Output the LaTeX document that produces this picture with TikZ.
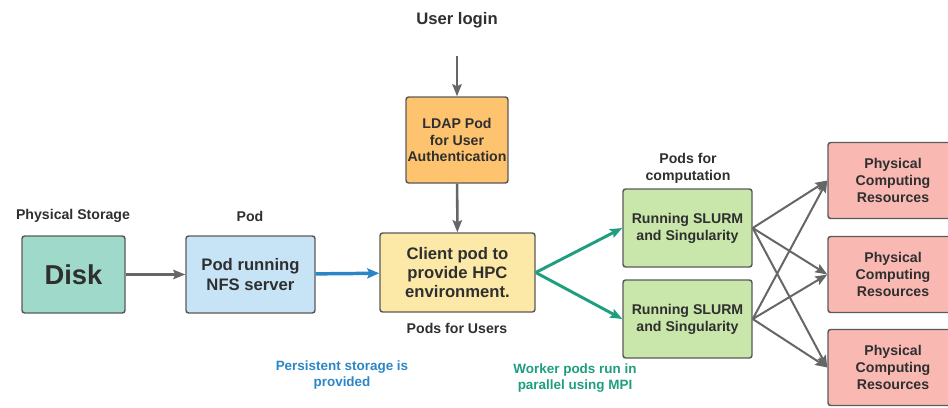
\documentclass[tikz,border=0pt]{standalone}
\usepackage{fontspec}
\setmainfont{Liberation Sans}
\usetikzlibrary{arrows.meta}
\definecolor{diskbg}{HTML}{9FD9C9}
\definecolor{nfsbg}{HTML}{C6E4F6}
\definecolor{ldapbg}{HTML}{FDC36F}
\definecolor{clientbg}{HTML}{FDE9A7}
\definecolor{slurmbg}{HTML}{C9E7AA}
\definecolor{resbg}{HTML}{F9B9B2}
\definecolor{boxline}{HTML}{5A5A5A}
\definecolor{txt}{HTML}{2F2F2F}
\definecolor{arrgray}{HTML}{666666}
\definecolor{nfsblue}{HTML}{2B86C7}
\definecolor{mpiteal}{HTML}{1D9E7E}
\newcommand{\DiskTxt}{\fontsize{20.5}{24}\selectfont}
\newcommand{\MidTxt}{\fontsize{12.5}{14.5}\selectfont}
\newcommand{\SmlTxt}{\fontsize{10.6}{12.6}\selectfont}
\newcommand{\AnnTxt}{\fontsize{10.1}{12.2}\selectfont}

\begin{document}
\begin{tikzpicture}[x=0.75pt,y=-0.75pt,
  box/.style={draw=boxline,line width=1.1pt,rounded corners=2pt,align=center,
    inner sep=1pt,text=txt,font=\bfseries},
  wh/.style 2 args={minimum width=#1*0.75pt,minimum height=#2*0.75pt},
  lbl/.style={align=center,inner sep=1pt,text=txt,font=\bfseries},
  garr/.style={draw=arrgray,line width=1.9pt,-{Stealth[length=9pt,width=7pt,inset=1.5pt]}},
  barr/.style={draw=nfsblue,line width=2.6pt,-{Stealth[length=9pt,width=7.5pt,inset=1.5pt]}},
  tarr/.style={draw=mpiteal,line width=2.2pt,-{Stealth[length=9pt,width=7pt,inset=1.5pt]}}]

\clip (0,0) rectangle (948,407);

% --- boxes -----------------------------------------------------------
\node[box,wh={103}{77},fill=diskbg,font=\DiskTxt\bfseries] (disk) at (73.5,274.5) {Disk};
\node[box,wh={129}{77},fill=nfsbg,font=\MidTxt\bfseries] (nfs) at (250.5,274.5) {Pod running\\NFS server};
\node[box,wh={102}{86},fill=ldapbg,font=\SmlTxt\bfseries] (ldap) at (457,140) {LDAP Pod\\for User\\Authentication};
\node[box,wh={155}{79},fill=clientbg,font=\MidTxt\bfseries] (client) at (457.5,272.5) {Client pod to\\provide HPC\\environment.};
\node[box,wh={129}{78},fill=slurmbg,font=\SmlTxt\bfseries] (slurmA) at (687.5,228) {Running SLURM\\and Singularity};
\node[box,wh={129}{78},fill=slurmbg,font=\SmlTxt\bfseries] (slurmB) at (687.5,319) {Running SLURM\\and Singularity};
\foreach \n/\y in {A/180.5,B/274.5,C/367.5}{
  \node[box,wh={130}{76},fill=resbg,font=\SmlTxt\bfseries] (res\n) at (893,\y) {Physical\\Computing\\Resources};
}

% --- labels ----------------------------------------------------------
\node[lbl,font=\MidTxt\bfseries] (login) at (457,20) {User login};
\node[lbl,font=\SmlTxt\bfseries] (storlbl) at (73,216) {Physical Storage};
\node[lbl,font=\SmlTxt\bfseries] (podlbl) at (250,216) {Pod};
\node[lbl,font=\SmlTxt\bfseries] (userlbl) at (457,328) {Pods for Users};
\node[lbl,font=\SmlTxt\bfseries] (complbl) at (688,168) {Pods for\\computation};
\node[lbl,font=\AnnTxt\bfseries,text=nfsblue] (storenote) at (342,375) {Persistent storage is\\provided};
\node[lbl,font=\AnnTxt\bfseries,text=mpiteal] (mpinote) at (575,378) {Worker pods run in\\parallel using MPI};

% --- connectors ------------------------------------------------------
\draw[garr] (disk) -- (nfs);
\draw[barr] (nfs) -- (client);
\draw[garr,shorten <=20pt] (login) -- (ldap);
\draw[garr] (ldap) -- (client);
\draw[tarr] (client.east) -- (slurmA.west);
\draw[tarr] (client.east) -- (slurmB.west);
\foreach \s in {slurmA,slurmB}{
  \foreach \r in {resA,resB,resC}{
    \draw[garr,line width=1.5pt] (\s.east) -- (\r.west);
  }
}

\end{tikzpicture}
\end{document}
